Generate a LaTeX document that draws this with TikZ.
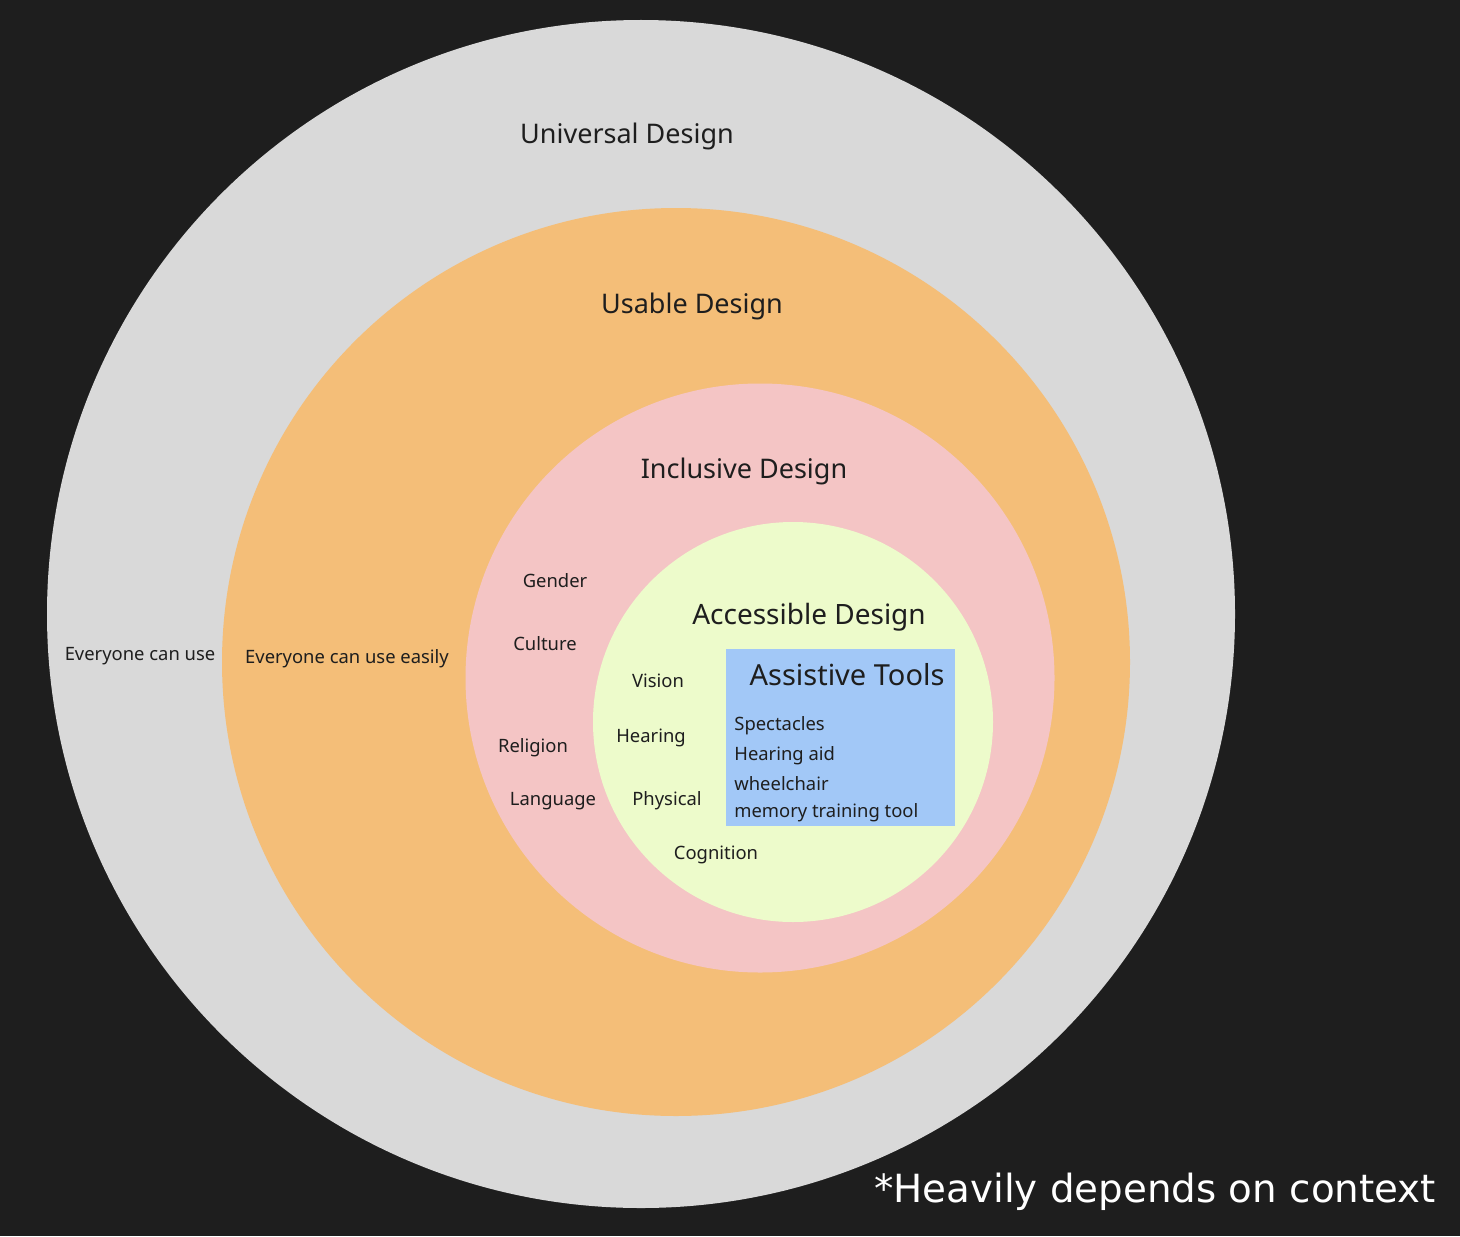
\documentclass[tikz,border=0pt]{standalone}
\usepackage{fontspec}
\setmainfont{Noto Sans}
\newfontfamily\notefont{DejaVu Sans}
\definecolor{bgdark}{HTML}{1E1E1E}
\definecolor{ringgray}{HTML}{D9D9D9}
\definecolor{ringorange}{HTML}{F4BE78}
\definecolor{ringpink}{HTML}{F4C5C5}
\definecolor{ringlime}{HTML}{EDFBCB}
\definecolor{toolblue}{HTML}{A2C8F7}
\definecolor{inktext}{HTML}{1E1E1E}
\begin{document}
\begin{tikzpicture}[x=0.5pt,y=-0.5pt,
  ring/.style={circle, inner sep=0pt, draw=none},
  title/.style={text=inktext, font=\fontsize{13.5pt}{16pt}\selectfont, inner sep=0pt},
  tooltitle/.style={text=inktext, font=\fontsize{14.5pt}{17pt}\selectfont, inner sep=0pt},
  label/.style={text=inktext, font=\fontsize{9.2pt}{11pt}\selectfont, inner sep=0pt},
  item/.style={text=inktext, font=\fontsize{9.2pt}{11pt}\selectfont, inner sep=0pt, anchor=west}
]
\fill[bgdark] (0,0) rectangle (1460,1236);
\useasboundingbox (0,0) rectangle (1460,1236);

% nested circles
\node[ring, fill=ringgray,   minimum size=594pt]   (universal)  at (641,614) {};
\node[ring, fill=ringorange, minimum size=454pt]   (usable)     at (676,662) {};
\node[ring, fill=ringpink,   minimum size=294.5pt] (inclusive)  at (760,678) {};
\node[ring, fill=ringlime,   minimum size=200pt]   (accessible) at (793,722) {};

% assistive tools box
\node[fill=toolblue, inner sep=0pt, minimum width=114.5pt, minimum height=88.5pt, anchor=north west] (tools) at (726,649) {};

% titles
\node[title] (tUniversal)  at (627,136) {Universal Design};
\node[title] (tUsable)     at (692,306) {Usable Design};
\node[title] (tInclusive)  at (744,471) {Inclusive Design};
\node[title, font=\fontsize{14pt}{17pt}\selectfont] (tAccessible) at (809,617) {Accessible Design};
\node[tooltitle] (tTools)  at (847,675) {Assistive Tools};

% outer ring notes
\node[label] (lUse)    at (140,656) {Everyone can use};
\node[label] (lEasily) at (347,659) {Everyone can use easily};

% inclusive factors
\node[label] (lGender)   at (555,581) {Gender};
\node[label] (lCulture)  at (545,644) {Culture};
\node[label] (lReligion) at (533,748) {Religion};
\node[label] (lLanguage) at (553,801) {Language};

% accessibility needs
\node[label] (lVision)    at (658,681) {Vision};
\node[label] (lHearing)   at (651,738) {Hearing};
\node[label] (lPhysical)  at (667,801) {Physical};
\node[label] (lCognition) at (716,855) {Cognition};

% tools
\node[item] (iSpect) at (734,726) {Spectacles};
\node[item] (iAid)   at (734,756) {Hearing aid};
\node[item] (iWheel) at (734,784) {wheelchair};
\node[item] (iMem)   at (734,813) {memory training tool};

% footnote
\node[text=white, font=\notefont\fontsize{19.4pt}{23pt}\selectfont, inner sep=0pt] (note) at (1155,1192) {*Heavily depends on context};
\end{tikzpicture}
\end{document}
